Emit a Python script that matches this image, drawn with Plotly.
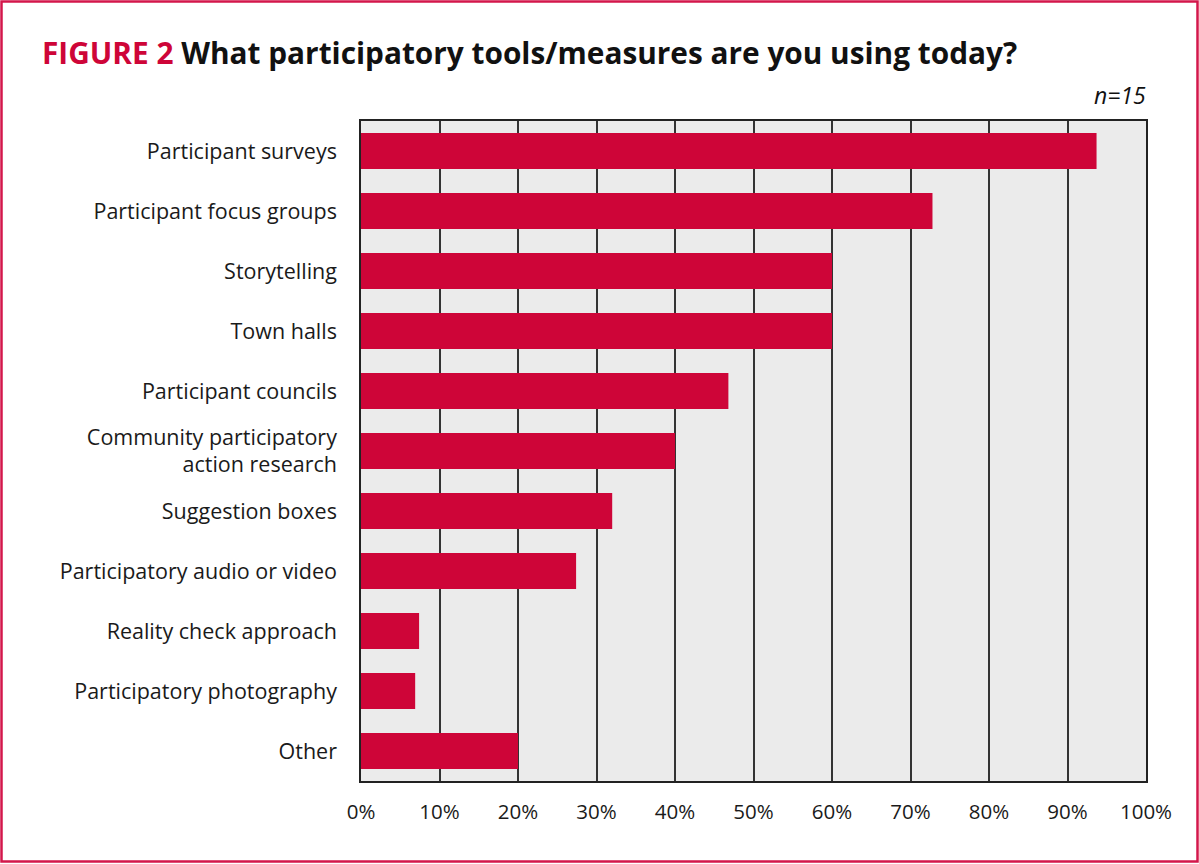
import plotly.graph_objects as go

categories = [
    "Participant surveys",
    "Participant focus groups",
    "Storytelling",
    "Town halls",
    "Participant councils",
    "Community participatory<br>action research",
    "Suggestion boxes",
    "Participatory audio or video",
    "Reality check approach",
    "Participatory photography",
    "Other",
]
values = [93.7, 72.8, 60.0, 60.0, 46.8, 40.0, 32.0, 27.4, 7.4, 6.9, 20.0]
tick_vals = [0, 10, 20, 30, 40, 50, 60, 70, 80, 90, 100]
tick_text = [f"{v}%" for v in tick_vals]

RED = "#CE0538"
FONT = "Open Sans, Noto Sans, sans-serif"

fig = go.Figure(go.Bar(
    x=values, y=categories, orientation="h",
    marker=dict(color=RED, line=dict(width=0)),
    hoverinfo="x+y",
))

W, H = 1199, 864
L, R, T, B = 361, 53, 121, 83
pw, ph = W - L - R, H - T - B

fig.update_layout(
    width=W, height=H,
    margin=dict(l=L, r=R, t=T, b=B),
    paper_bgcolor="white", plot_bgcolor="#EBEBEB",
    bargap=0.4, showlegend=False,
    font=dict(family=FONT, size=21, color="#1a1a1a"),
)
fig.update_xaxes(
    range=[0, 100], tickvals=tick_vals, ticktext=tick_text,
    showgrid=True, gridcolor="#333333", gridwidth=1.5,
    showline=True, linecolor="#222222", linewidth=1.5, mirror=True,
    ticks="", ticklabelstandoff=12, zeroline=False, fixedrange=True,
    tickfont=dict(size=20.5),
)
fig.update_yaxes(
    autorange="reversed", showgrid=False,
    showline=True, linecolor="#222222", linewidth=1.5, mirror=True,
    ticks="", ticklabelstandoff=18, fixedrange=True,
    tickfont=dict(size=21.5),
)

def px_x(x):
    return (x - L) / pw

def px_y(y):
    return 1 - (y - T) / ph

fig.add_shape(type="rect", xref="paper", yref="paper",
              x0=px_x(1.5), x1=px_x(1197.5), y0=px_y(861.5), y1=px_y(1.5),
              line=dict(color="#D3174B", width=2.5), layer="above")

fig.add_annotation(
    xref="paper", yref="paper", x=px_x(40), y=px_y(52),
    xanchor="left", yanchor="middle", showarrow=False,
    text="<b><span style='color:#CE0538'>FIGURE 2</span> What participatory tools/measures are you using today?</b>",
    font=dict(family=FONT, size=29.8, color="#111111"),
)
fig.add_annotation(
    xref="paper", yref="paper", x=px_x(1148), y=px_y(95),
    xanchor="right", yanchor="middle", showarrow=False,
    text="<i>n=15</i>", font=dict(family=FONT, size=23, color="#111111"),
)

fig.write_html("out.html", config={"displayModeBar": False},
               post_script="document.body.style.margin='0px';document.body.style.overflow='hidden';")
